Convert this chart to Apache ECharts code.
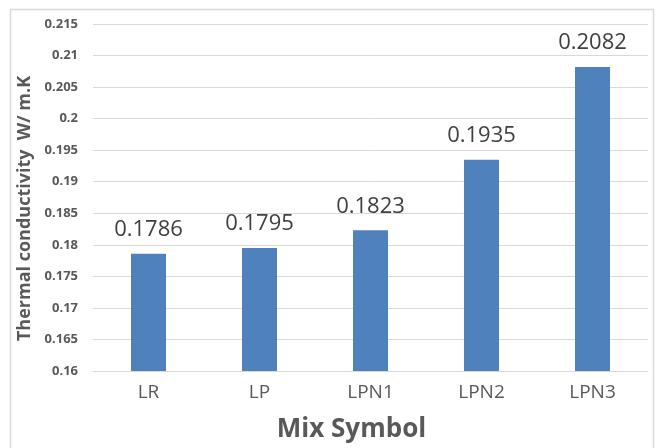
<!DOCTYPE html>
<html>
<head>
<meta charset="utf-8">
<script src="https://cdn.jsdelivr.net/npm/echarts@6/dist/echarts.min.js"></script>
<style>html,body{margin:0;padding:0;background:#fff;}#c{width:656px;height:448px;}</style>
</head>
<body>
<div id="c"></div>
<script>
var categories = ['LR', 'LP', 'LPN1', 'LPN2', 'LPN3'];
var values = [0.1786, 0.1795, 0.1823, 0.1935, 0.2082];
var yTicks = [0.16, 0.165, 0.17, 0.175, 0.18, 0.185, 0.19, 0.195, 0.2, 0.205, 0.21, 0.215];
var yName = 'Thermal conductivity  W/ m.K';
var xName = 'Mix Symbol';

var chart = echarts.init(document.getElementById('c'), null, {renderer: 'canvas'});
chart.setOption({
  animation: false,
  backgroundColor: '#ffffff',
  graphic: [{
    type: 'rect', shape: {x: 10.5, y: 9.5, width: 643, height: 450},
    style: {fill: 'none', stroke: '#d9d9d9', lineWidth: 1.5}, silent: true
  }],
  grid: {left: 93, right: 8, top: 24, bottom: 73, containLabel: false},
  xAxis: {
    type: 'category',
    data: categories,
    axisLine: {show: true, lineStyle: {color: '#d9d9d9', width: 1}},
    axisTick: {show: false},
    axisLabel: {color: '#595959', fontSize: 19, fontFamily: 'Open Sans', margin: 12},
    name: xName,
    nameLocation: 'middle',
    nameGap: 46,
    nameTextStyle: {color: '#595959', fontSize: 26, fontWeight: 'bold', fontFamily: 'Open Sans', padding: [0, 38, 0, 0]}
  },
  yAxis: {
    type: 'value',
    min: 0.16,
    max: 0.215,
    interval: 0.005,
    axisLine: {show: false},
    axisTick: {show: false},
    splitLine: {lineStyle: {color: '#d9d9d9', width: 1}},
    axisLabel: {
      color: '#595959', fontSize: 13, fontWeight: 'bold', fontFamily: 'Open Sans', margin: 15,
      formatter: function (v) {
        var best = yTicks[0];
        for (var i = 0; i < yTicks.length; i++) if (Math.abs(yTicks[i] - v) < Math.abs(best - v)) best = yTicks[i];
        return String(best);
      }
    },
    name: yName,
    nameLocation: 'middle',
    nameGap: 56,
    nameTextStyle: {color: '#595959', fontSize: 18, fontWeight: 'bold', fontFamily: 'Open Sans', padding: [0, 22, 0, 0]}
  },
  series: [{
    type: 'bar',
    data: values,
    barWidth: 35,
    itemStyle: {color: '#4f81bd'},
    label: {
      show: true, position: 'top', distance: 13,
      color: '#404040', fontSize: 22, fontFamily: 'Open Sans',
      formatter: function (p) { return p.value.toFixed(4); }
    }
  }]
});
</script>
</body>
</html>
